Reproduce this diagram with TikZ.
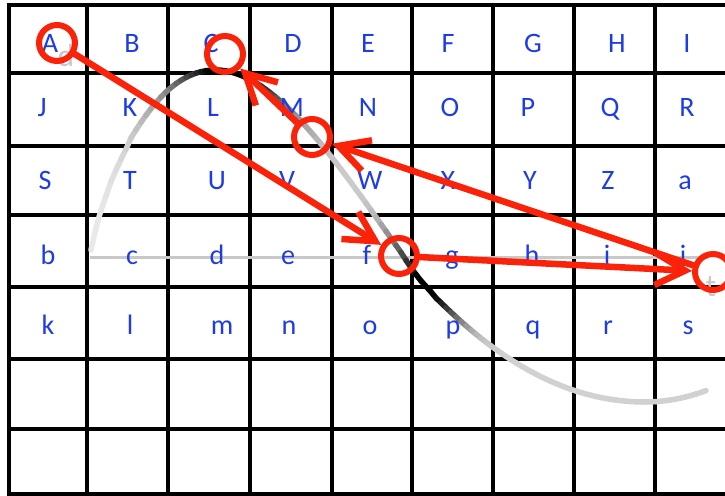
\documentclass[tikz,border=0pt]{standalone}
\usepackage{fontspec}
\newfontfamily\gridfont{Carlito}
\usetikzlibrary{arrows.meta}
\definecolor{GwBlue}{RGB}{30,60,230}
\definecolor{GwRed}{RGB}{250,35,10}
\definecolor{GwAxis}{RGB}{200,200,200}
\tikzset{
  gw/gridline/.style={line width=0.08cm, draw=black, line cap=rect},
  gw/letter/.style={
    text=GwBlue,
    inner sep=0pt,
    anchor=base,
    font=\gridfont\fontsize{16}{18}\selectfont
  },
  gw/axislabel/.style={
    text=GwAxis,
    inner sep=0pt,
    anchor=base,
    font=\gridfont\fontsize{18}{20}\selectfont
  },
  gw/axis/.style={line width=0.06cm, draw=GwAxis},
  gw/curve/.style={line width=0.11cm, line cap=round},
  gw/ring/.style={
    circle,
    draw=GwRed,
    line width=0.12cm,
    minimum size=0.72cm,
    inner sep=0pt
  },
  gw/arrow/.style={-{Straight Barb[length=0.6cm,width=0.64cm]}, line width=0.13cm, draw=GwRed, line cap=round, line join=round},
  declare function={
    wavea(\x)=258-188*sin(180*pow(max(min(\x,405)-90,0.5)/315,0.75));
    waveb(\x)=258+144*sin(90*pow(max(min(\x,645)-405,0.5)/240,0.85)+90*max(\x-645,0)/240);
    wavey(\x)=(\x<405)?wavea(\x):waveb(\x);
  }
}

\begin{document}
\begin{tikzpicture}[x=0.02cm,y=-0.02cm]
  \clip (0,0) rectangle (725,496);
  % table
  \foreach \gx in {9,87,168,250,332,412,493,574,655}
    {\draw[gw/gridline] (\gx,5) -- (\gx,494);}
  \foreach \gy in {5,73,146,215,287,359,429,494}
    {\draw[gw/gridline] (9,\gy) -- (725,\gy);}
  % graph behind the letters
  \draw[gw/axis] (90,258) -- (708,258);
  \foreach \i in {0,...,122}{
    \pgfmathsetmacro{\xa}{91+5*\i}
    \pgfmathsetmacro{\xb}{\xa+5}
    \pgfmathsetmacro{\shade}{min(100,18-10*exp(-((\xa-90)/40)^2)+90*exp(-((\xa-228)/60)^2)+85*exp(-((\xa-425)/35)^2))}
    \draw[gw/curve, draw=black!\shade] (\xa,{wavey(\xa)}) -- (\xb,{wavey(\xb)});
  }
  \node[gw/axislabel] (axd) at (66,67) {d};
  \node[gw/axislabel] (axt) at (711,297) {t};
  % letters
  \foreach \txt/\x/\y in {
    A/50/53,B/132/53,C/211/53,D/293/53,E/368/53,F/448/53,G/533/53,H/617/53,I/687/53,
    J/42/117,K/130/117,L/213/117,M/292/117,N/368/117,O/450/117,P/528/117,Q/610/117,R/687/117,
    S/45/190,T/130/190,U/217/190,V/287/190,W/370/190,X/448/190,Y/530/190,Z/608/190,a/685/190,
    b/48/265,c/132/265,d/217/265,e/288/265,f/367/265,g/452/265,h/532/265,i/607/265,j/683/265,
    k/48/335,l/130/335,m/222/335,n/289/335,o/370/335,p/453/335,q/533/335,r/608/335,s/688/335}
  {\node[gw/letter] (l\txt) at (\x,\y) {\txt};}
  % path of the walk
  \node[gw/ring] (rA) at (57,43) {};
  \node[gw/ring] (rC) at (225,54) {};
  \node[gw/ring] (rM) at (312,137) {};
  \node[gw/ring] (rf) at (399,256) {};
  \node[gw/ring] (rj) at (713,272) {};
  \draw[gw/arrow] (rA) -- (rf);
  \draw[gw/arrow] (rf) -- (rj);
  \draw[gw/arrow] (rj) -- (rM);
  \draw[gw/arrow] (rM) -- (rC);
\end{tikzpicture}
\end{document}
